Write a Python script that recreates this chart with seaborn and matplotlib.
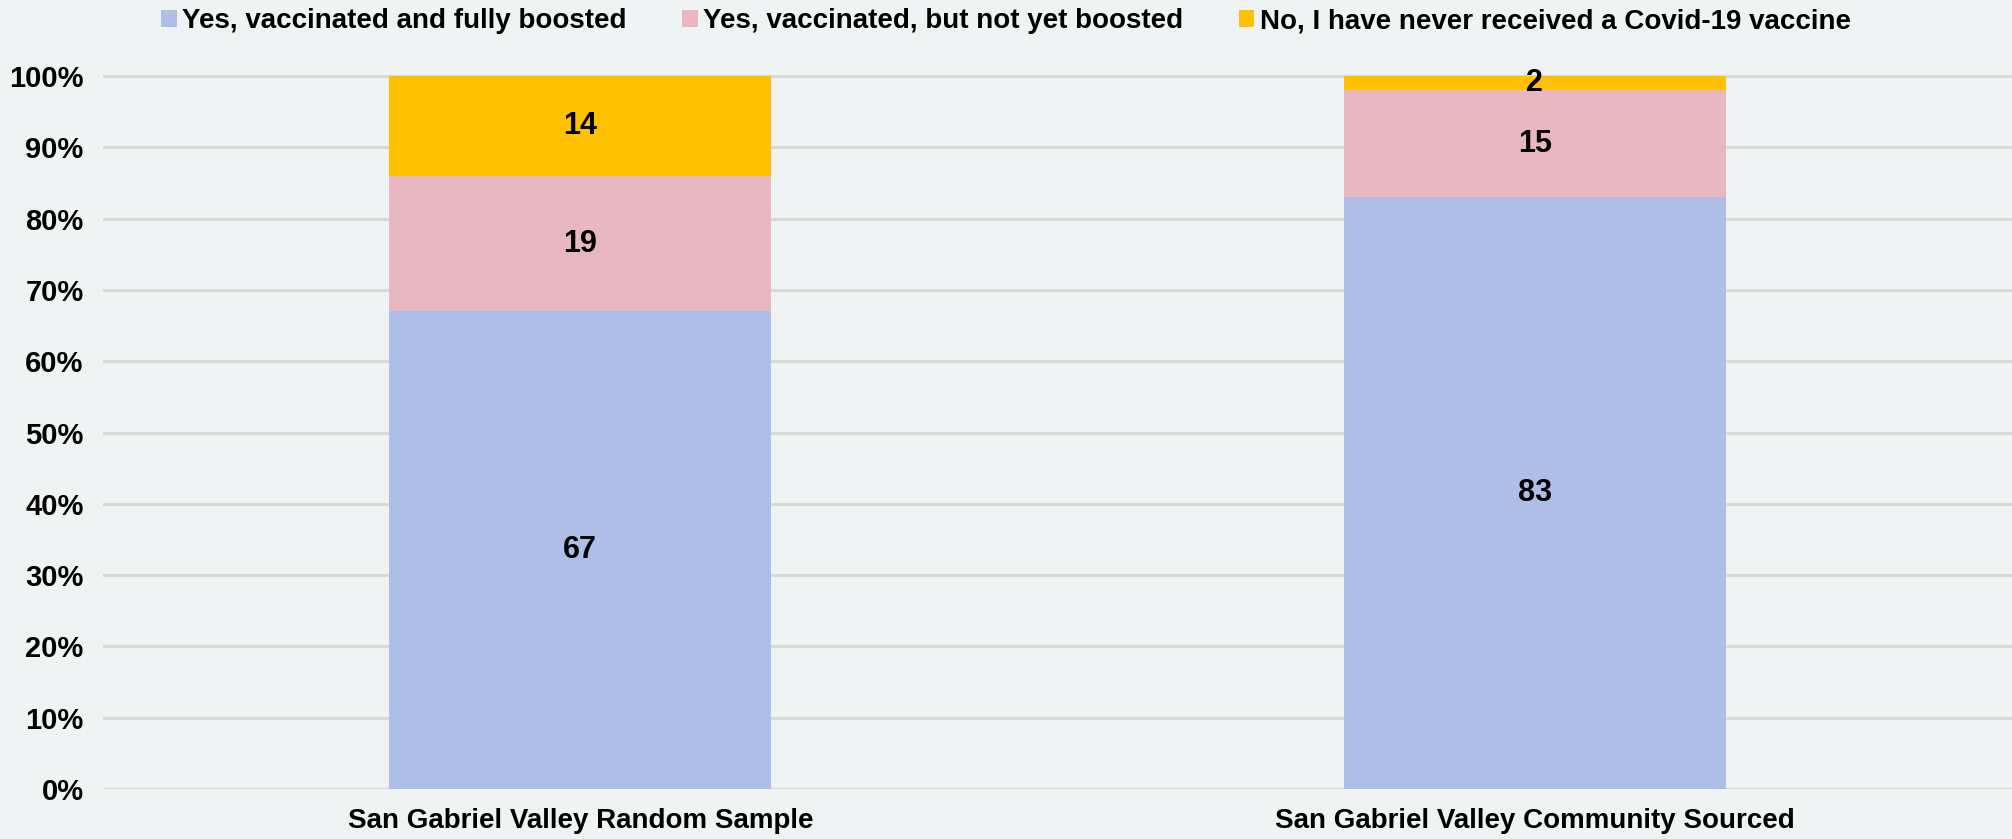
import numpy as np
import matplotlib
matplotlib.use("Agg")
import matplotlib.pyplot as plt
import seaborn as sns
import pandas as pd
from matplotlib.patches import Patch

# data
groups = ["San Gabriel Valley Random Sample", "San Gabriel Valley Community Sourced"]
series = ["Yes, vaccinated and fully boosted",
          "Yes, vaccinated, but not yet boosted",
          "No, I have never received a Covid-19 vaccine"]
boosted = [67, 83]
not_boosted = [19, 15]
never = [14, 2]

colors = ["#AEBEE6", "#E8B7C0", "#FFC000"]
bg = "#EFF3F4"

sns.set_theme(style="white")
plt.rcParams["font.family"] = ["Liberation Sans", "DejaVu Sans"]
plt.rcParams["font.weight"] = "bold"
plt.rcParams["text.color"] = "black"
plt.rcParams["xtick.color"] = "black"
plt.rcParams["ytick.color"] = "black"

df = pd.DataFrame({"group": groups, "b": boosted, "n": not_boosted, "v": never})
df["c1"] = df["b"]
df["c2"] = df["b"] + df["n"]
df["c3"] = df["b"] + df["n"] + df["v"]

fig = plt.figure(figsize=(20.12, 8.39), dpi=100, facecolor=bg)
ax = fig.add_axes([0.0512, 0.0596, 0.9488, 0.8515])
ax.set_facecolor(bg)

# stacked bars: draw cumulative totals from the top layer down
for col, c in zip(["c3", "c2", "c1"], colors[::-1]):
    sns.barplot(data=df, x="group", y=col, color=c, width=0.4,
                saturation=1, linewidth=0, edgecolor="none", ax=ax, zorder=2)

# labels in the middle of each segment
for i in range(len(groups)):
    mids = [df["c1"][i] / 2,
            df["c1"][i] + df["n"][i] / 2,
            df["c2"][i] + df["v"][i] / 2]
    vals = [df["b"][i], df["n"][i], df["v"][i]]
    for m, v in zip(mids, vals):
        ax.text(i, m, str(v), ha="center", va="center",
                fontsize=22, fontweight="bold", color="black", zorder=3)

ax.set_ylim(0, 100.2)
ax.set_xlim(-0.5, 1.5)
ax.set_yticks(np.arange(0, 101, 10))
ax.set_yticklabels([f"{t}%" for t in range(0, 101, 10)])
ax.yaxis.grid(True, color="#D9D9D9", linewidth=2.2, zorder=0)
ax.set_axisbelow(True)
for s in ax.spines.values():
    s.set_visible(False)
ax.tick_params(axis="y", length=0, pad=14, labelsize=21)
ax.tick_params(axis="x", length=0, pad=14, labelsize=20)
for lab in ax.get_xticklabels() + ax.get_yticklabels():
    lab.set_fontweight("bold")
ax.set_xlabel("")
ax.set_ylabel("")

handles = [Patch(facecolor=c, edgecolor="none") for c in colors]
fig.legend(handles, series, loc="upper center", bbox_to_anchor=(0.5, 1.02),
           ncol=3, frameon=False, handlelength=0.55,
           handleheight=0.6, handletextpad=0.2, columnspacing=2.0,
           prop={"weight": "bold", "size": 20})

fig.savefig("out.png", dpi=100, facecolor=bg)
